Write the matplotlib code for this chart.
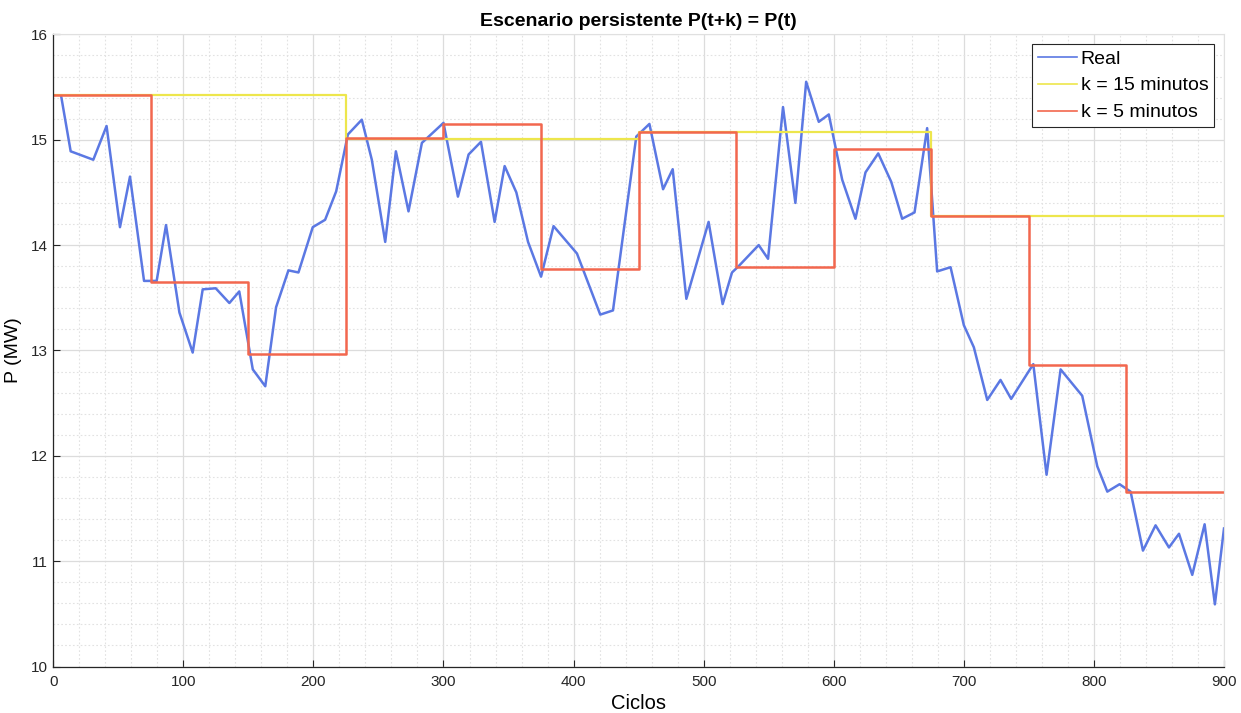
import matplotlib
matplotlib.use("Agg")
import matplotlib.pyplot as plt
import numpy as np

plt.rcParams['font.family'] = ['Liberation Sans', 'DejaVu Sans']

# Real power samples (cycle, MW)
real_x = [6, 13.4, 30.8, 41, 51.3, 59, 69.8, 79.5, 86.7, 97, 107.2, 114.9, 124.9,
          135.4, 143, 153.4, 163, 171.3, 180.8, 188.5, 199.5, 209, 217.5, 226.5,
          237.2, 244.9, 255.2, 263.4, 273.1, 283.4, 300, 311.1, 319.3, 328.8,
          339.3, 347, 356, 365, 375, 384.6, 402.6, 420.5, 430.3, 448.2, 458.3,
          468.8, 476.2, 486.7, 503.8, 514.6, 521.8, 526.9, 542.3, 549.5, 561,
          570.5, 578.8, 588.5, 596.2, 606.5, 616.7, 624.4, 634.2, 644.2, 652.6,
          662.1, 671.8, 679.5, 689.8, 700, 707.7, 718, 728.2, 736.4, 753.4,
          763.6, 774.4, 791, 802.6, 810.3, 819.7, 828.2, 837.7, 847.4, 857.7,
          865.4, 875.6, 885.1, 893, 900]
real_y = [15.42, 14.89, 14.81, 15.13, 14.17, 14.65, 13.66, 13.66, 14.19, 13.36,
          12.98, 13.58, 13.59, 13.45, 13.56, 12.82, 12.66, 13.41, 13.76, 13.74,
          14.17, 14.24, 14.51, 15.05, 15.19, 14.81, 14.03, 14.89, 14.32, 14.97,
          15.16, 14.46, 14.86, 14.98, 14.22, 14.75, 14.50, 14.03, 13.70, 14.18,
          13.92, 13.34, 13.38, 15.03, 15.15, 14.53, 14.72, 13.49, 14.22, 13.44,
          13.74, 13.80, 14.00, 13.87, 15.31, 14.40, 15.55, 15.17, 15.24, 14.62,
          14.25, 14.69, 14.87, 14.60, 14.25, 14.31, 15.11, 13.75, 13.79, 13.24,
          13.03, 12.53, 12.72, 12.54, 12.87, 11.82, 12.82, 12.57, 11.90, 11.66,
          11.73, 11.66, 11.10, 11.34, 11.13, 11.26, 10.87, 11.35, 10.59, 11.31]

# Persistence forecasts (step edges in cycles, value per step)
k15_edges = [0, 225, 450, 675, 900]
k15_vals = [15.42, 15.01, 15.07, 14.28]
k5_edges = [0, 75, 150, 225, 300, 375, 450, 525, 600, 675, 750, 825, 900]
k5_vals = [15.42, 13.65, 12.97, 15.02, 15.15, 13.77, 15.07, 13.79, 14.91, 14.28, 12.86, 11.66]

title = "Escenario persistente P(t+k) = P(t)"
xlabel = "Ciclos"
ylabel = "P (MW)"
labels = ["Real", "k = 15 minutos", "k = 5 minutos"]

fig = plt.figure(figsize=(12.41, 7.13), dpi=100)
ax = fig.add_axes([0.0429, 0.0652, 0.9434, 0.8866])

c_blue = '#5B78E3'
c_yellow = '#EDE64C'
c_red = '#F2674E'

ax.plot(real_x, real_y, color=c_blue, lw=1.8, label=labels[0])
ax.step(k15_edges, k15_vals + [k15_vals[-1]], where='post', color=c_yellow, lw=1.6, label=labels[1])
ax.step(k5_edges, k5_vals + [k5_vals[-1]], where='post', color=c_red, lw=1.8, label=labels[2])

ax.set_xlim(0, 900)
ax.set_ylim(10, 16)
ax.set_xticks(np.arange(0, 901, 100))
ax.set_yticks(np.arange(10, 16.1, 1))
ax.set_xticks(np.arange(0, 901, 20), minor=True)
ax.set_yticks(np.arange(10, 16.01, 0.2), minor=True)

ax.grid(which='major', color='#DCDCDC', lw=0.9, ls='-')
ax.grid(which='minor', color='#E2E2E2', lw=0.8, ls=(0, (1.5, 2)))
ax.set_axisbelow(True)

ax.tick_params(which='major', direction='in', length=5, width=0.8, colors='#262626',
               labelsize=11, top=False, right=False)
ax.tick_params(axis='x', which='major', pad=6)
ax.tick_params(axis='y', which='major', pad=4)
ax.tick_params(which='minor', length=0)
for s in ['left', 'bottom']:
    ax.spines[s].set_color('#262626')
    ax.spines[s].set_linewidth(0.9)
for s in ['top', 'right']:
    ax.spines[s].set_color('#E0E0E0')
    ax.spines[s].set_linewidth(0.8)

ax.set_title(title, fontsize=14, fontweight='bold', pad=6)
ax.set_xlabel(xlabel, fontsize=14.5, labelpad=4)
ax.set_ylabel(ylabel, fontsize=14, labelpad=6)

leg = ax.legend(loc='upper right', fontsize=14, frameon=True, fancybox=False,
                edgecolor='#262626', framealpha=1, borderpad=0.3, handlelength=2.0,
                handletextpad=0.2, labelspacing=0.48, borderaxespad=0.5)
leg.get_frame().set_linewidth(0.8)
for h in leg.get_lines():
    h.set_linewidth(1.2)

fig.savefig("out.png", dpi=100)
